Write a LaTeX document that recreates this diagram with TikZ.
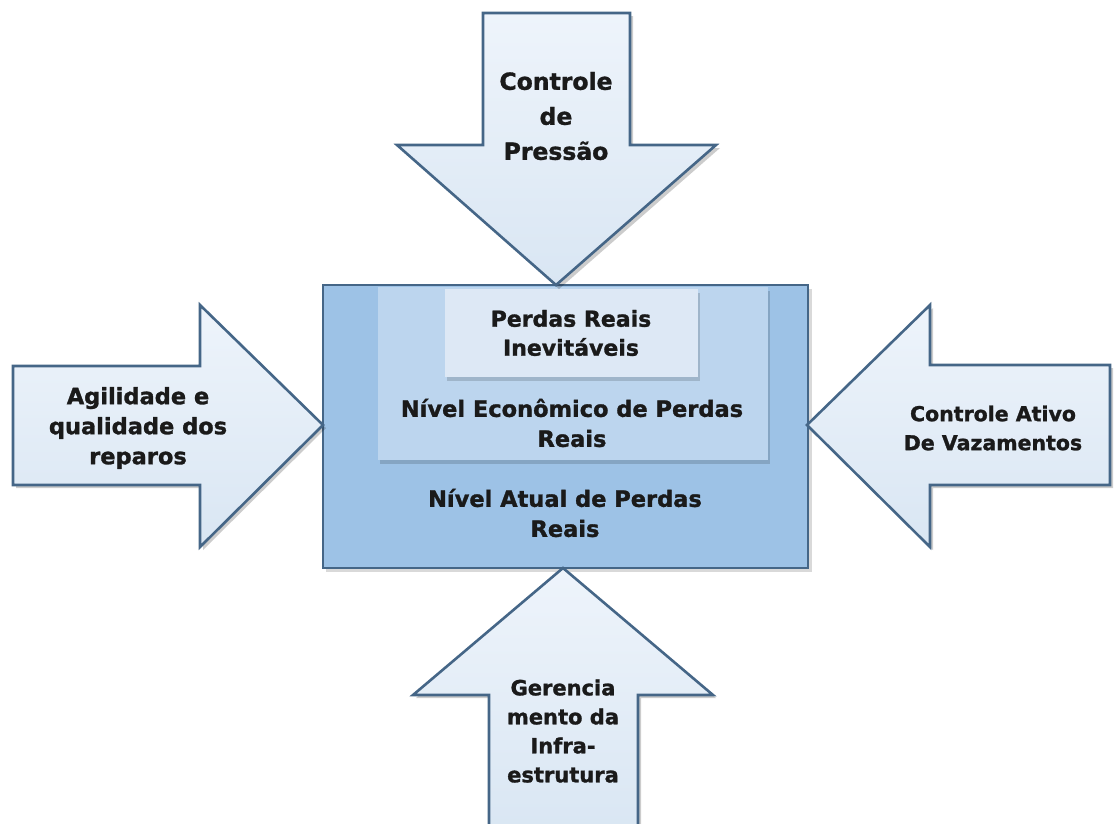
\documentclass[tikz,border=0pt]{standalone}
\usepackage{fontspec}
\setmainfont{DejaVu Sans}[BoldFeatures={FakeBold=1.3}]
\definecolor{arrowfill}{HTML}{D9E6F3}
\definecolor{arrowtop}{HTML}{EEF4FB}
\definecolor{edgeblue}{HTML}{456687}
\definecolor{outerfill}{HTML}{9DC2E6}
\definecolor{midfill}{HTML}{BCD5EE}
\definecolor{innerfill}{HTML}{DDE8F5}
\definecolor{ink}{HTML}{1A1A1A}
\tikzset{
  x=1pt, y=-1pt,
  bigarrow/.style={draw=edgeblue, line width=2.6pt, line join=miter, top color=arrowtop, bottom color=arrowfill},
  arrowshadow/.style={fill=black, opacity=0.2},
  outerbox/.style={draw=edgeblue, line width=2.6pt, fill=outerfill},
  levelbox/.style={fill=#1},
  boxshadow/.style={fill=black, opacity=0.15},
  label/.style={text=ink, font=\bfseries, align=center, inner sep=0pt},
}
\begin{document}
\begin{tikzpicture}
\useasboundingbox (0,0) rectangle (1116,823);
\fill[white] (0,0) rectangle (1116,823);

% central nested levels
\fill[boxshadow] (326,289) rectangle (812,572);
\draw[outerbox] (323,285) rectangle (808,568);
\fill[boxshadow] (380,291) rectangle (770,464);
\fill[levelbox=midfill] (378,287) rectangle (768,460);
\fill[boxshadow] (447,293) rectangle (700,381);
\fill[levelbox=innerfill] (445,289) rectangle (698,377);

% four block arrows pointing at the centre
\fill[arrowshadow] (486,16) -- (633,16) -- (633,148) -- (720,148) -- (559,289) -- (400,148) -- (486,148) -- cycle;
\draw[bigarrow] (483,13) -- (630,13) -- (630,145) -- (716,145) -- (556,285) -- (397,145) -- (483,145) -- cycle;

\fill[arrowshadow] (16,369) -- (203,369) -- (203,308) -- (326,428) -- (203,550) -- (203,488) -- (16,488) -- cycle;
\draw[bigarrow] (13,366) -- (200,366) -- (200,305) -- (323,425) -- (200,547) -- (200,485) -- (13,485) -- cycle;

\fill[arrowshadow] (1113,368) -- (933,368) -- (933,308) -- (810,428) -- (933,550) -- (933,488) -- (1113,488) -- cycle;
\draw[bigarrow] (1110,365) -- (930,365) -- (930,305) -- (807,425) -- (930,547) -- (930,485) -- (1110,485) -- cycle;

\fill[arrowshadow] (492,835) -- (492,698) -- (416,698) -- (566,571) -- (716,698) -- (641,698) -- (641,835) -- cycle;
\draw[bigarrow] (489,835) -- (489,695) -- (413,695) -- (563,568) -- (713,695) -- (638,695) -- (638,835) -- cycle;

% texts
\node[label, font=\bfseries\fontsize{23.5}{35}\selectfont] (press) at (556,116) {Controle\\de\\Pressão};
\node[label, font=\bfseries\fontsize{22}{29}\selectfont] (inev) at (571,333) {Perdas Reais\\Inevitáveis};
\node[label, font=\bfseries\fontsize{22.5}{30}\selectfont] (econ) at (572,423) {Nível Econômico de Perdas\\Reais};
\node[label, font=\bfseries\fontsize{22.5}{30}\selectfont] (atual) at (565,513) {Nível Atual de Perdas\\Reais};
\node[label, font=\bfseries\fontsize{22.5}{30}\selectfont] (agil) at (138,428) {Agilidade e\\qualidade dos\\reparos};
\node[label, font=\bfseries\fontsize{20.5}{29}\selectfont] (vaz) at (993,428) {Controle Ativo\\De Vazamentos};
\node[label, font=\bfseries\fontsize{21}{29}\selectfont] (infra) at (563,731) {Gerencia\\mento da\\Infra-\\estrutura};
\end{tikzpicture}
\end{document}
